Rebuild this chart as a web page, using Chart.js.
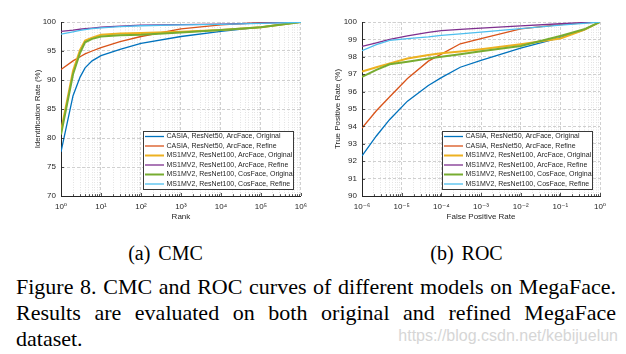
<!DOCTYPE html>
<html><head><meta charset="utf-8">
<script src="https://cdn.jsdelivr.net/npm/chart.js@4/dist/chart.umd.min.js"></script>
<style>
html,body{margin:0;padding:0;background:#fff;}
#wrap{position:relative;width:626px;height:354px;overflow:hidden;background:#fff;}
canvas{position:absolute;top:0;}
#c1{left:0;} #c2{left:313px;}
.sub{position:absolute;top:243px;width:200px;text-align:center;font:20px/20px "Liberation Serif","Times New Roman",serif;color:#000;word-spacing:3px;white-space:nowrap;}
.cap{position:absolute;left:16px;top:273.7px;width:600px;font:22px/26.3px "Liberation Serif","Times New Roman",serif;color:#000;}
.j{text-align:justify;text-align-last:justify;}
.wm{position:absolute;right:8px;top:327.5px;font:16px/16px "Liberation Sans",Arial,sans-serif;color:#d6d6d6;white-space:nowrap;}
</style></head>
<body>
<div id="wrap">
  <canvas id="c1" width="313" height="230"></canvas>
  <canvas id="c2" width="313" height="230"></canvas>
  <div class="sub" style="left:65.5px">(a) CMC</div>
  <div class="sub" style="left:366.5px">(b) ROC</div>
  <div class="cap">
    <div class="j">Figure 8. CMC and ROC curves of different models on MegaFace.</div>
    <div class="j">Results are evaluated on both original and refined MegaFace</div>
    <div>dataset.</div>
  </div>
  <div class="wm">https://blog.csdn.net/kebijuelun</div>
</div>
<script>
// ---------- data ----------
const seriesLabels = [
  'CASIA, ResNet50, ArcFace, Original',
  'CASIA, ResNet50, ArcFace, Refine',
  'MS1MV2, ResNet100, ArcFace, Original',
  'MS1MV2, ResNet100, ArcFace, Refine',
  'MS1MV2, ResNet100, CosFace, Original',
  'MS1MV2, ResNet100, CosFace, Refine'
];
const seriesColors = ['#0072BD','#D95319','#EDB120','#7E2F8E','#77AC30','#4DBEEE'];
const seriesWidths = [1.3, 1.3, 2, 1.3, 2, 1.3];

// CMC (x = rank)
const cmcRank = [1, 2, 3, 4, 6, 10, 30, 100, 1000, 10000, 100000, 1000000];
const cmcCasiaArcOrig   = [77.6, 87.3, 90.5, 92.1, 93.3, 94.2, 95.3, 96.3, 97.5, 98.4, 99.1, 100];
const cmcCasiaArcRef    = [91.8, 93.3, 94.0, 94.5, 95.0, 95.6, 96.6, 97.5, 98.8, 99.5, 99.9, 100];
const cmcMsArcOrig      = [81.2, 91.6, 95.2, 96.8, 97.3, 97.8, 98.0, 98.1, 98.3, 98.6, 99.1, 100];
const cmcMsArcRef       = [98.4, 98.6, 98.75, 98.85, 98.95, 99.1, 99.3, 99.45, 99.55, 99.65, 99.8, 100];
const cmcMsCosOrig      = [80.6, 91.0, 94.7, 96.5, 97.1, 97.5, 97.7, 97.8, 98.2, 98.6, 99.1, 100];
const cmcMsCosRef       = [97.9, 98.3, 98.55, 98.7, 98.85, 99.0, 99.2, 99.35, 99.5, 99.6, 99.75, 99.95];

// ROC (x = false positive rate)
const rocFpr = [1e-6, 2.3e-6, 5e-6, 1.4e-5, 4.7e-5, 1e-4, 3e-4, 1e-3, 1e-2, 1e-1, 0.4, 1];
const rocCasiaArcOrig = [92.3, 93.45, 94.4, 95.45, 96.35, 96.8, 97.4, 97.8, 98.5, 99.1, 99.55, 100];
const rocCasiaArcRef  = [93.9, 94.9, 95.7, 96.75, 97.75, 98.15, 98.75, 99.05, 99.6, 99.85, 99.95, 100];
const rocMsArcOrig    = [97.15, 97.4, 97.62, 97.9, 98.1, 98.2, 98.3, 98.43, 98.72, 99.05, 99.55, 100];
const rocMsArcRef     = [98.6, 98.8, 99.0, 99.2, 99.4, 99.5, 99.58, 99.65, 99.78, 99.9, 99.97, 100];
const rocMsCosOrig    = [96.85, 97.25, 97.57, 97.72, 97.9, 98.0, 98.15, 98.32, 98.62, 99.2, 99.58, 100];
const rocMsCosRef     = [98.35, 98.7, 98.95, 99.05, 99.15, 99.23, 99.32, 99.42, 99.62, 99.82, 99.92, 100];

// ticks
const cmcTickLabels = ['10\u2070','10\u00b9','10\u00b2','10\u00b3','10\u2074','10\u2075','10\u2076'];
const rocTickLabels = ['10\u207b\u2076','10\u207b\u2075','10\u207b\u2074','10\u207b\u00b3','10\u207b\u00b2','10\u207b\u00b9','10\u2070'];
const cmcYTicks = [70, 75, 80, 85, 90, 95, 100];
const rocYTicks = [90, 91, 92, 93, 94, 95, 96, 97, 98, 99, 100];

// ---------- helpers ----------
const FONT = '"Liberation Sans", Arial, "DejaVu Sans", sans-serif';
const TXT = '#262626';
function isPow10(v){ const l = Math.log10(v); return Math.abs(l - Math.round(l)) < 1e-9; }
function logTickValues(minExp, maxExp){
  const out = [];
  for (let e = minExp; e < maxExp; e++) for (let m = 1; m <= 9; m++) out.push(m * Math.pow(10, e));
  out.push(Math.pow(10, maxExp));
  return out;
}
function makeDatasets(xs, ysList){
  return ysList.map((ys, i) => ({
    label: seriesLabels[i],
    data: xs.map((x, k) => ({x: x, y: ys[k]})),
    borderColor: seriesColors[i],
    backgroundColor: seriesColors[i],
    borderWidth: seriesWidths[i],
    pointRadius: 0,
    showLine: true,
    tension: 0,
    fill: false,
    order: 6 - i
  }));
}

const boxLegend = {
  id: 'boxLegend',
  afterDraw(chart){
    const {ctx, chartArea: a} = chart;
    const w = 151, h = 59;
    const x0 = Math.round(a.right - 7 - w), y0 = Math.round(a.bottom - 6 - h);
    ctx.save();
    ctx.fillStyle = '#fff'; ctx.fillRect(x0, y0, w, h);
    ctx.strokeStyle = '#3a3a3a'; ctx.lineWidth = 1; ctx.strokeRect(x0 + 0.5, y0 + 0.5, w - 1, h - 1);
    ctx.font = '7px ' + FONT;
    ctx.textBaseline = 'middle';
    chart.data.datasets.forEach((ds, i) => {
      const y = y0 + 5.5 + i * 9.5;
      ctx.strokeStyle = ds.borderColor; ctx.lineWidth = ds.borderWidth;
      ctx.beginPath(); ctx.moveTo(x0 + 2, y); ctx.lineTo(x0 + 21, y); ctx.stroke();
      ctx.fillStyle = TXT;
      ctx.fillText(ds.label, x0 + 23.5, y);
    });
    ctx.restore();
  }
};

const innerTicks = {
  id: 'innerTicks',
  afterDatasetsDraw(chart){
    const {ctx, scales: {x, y}, chartArea: a} = chart;
    ctx.save();
    ctx.strokeStyle = TXT; ctx.lineWidth = 0.8;
    x.ticks.forEach(t => {
      const px = Math.round(x.getPixelForValue(t.value)) + 0.5;
      const len = isPow10(t.value) ? 3 : 1.8;
      ctx.beginPath(); ctx.moveTo(px, a.bottom); ctx.lineTo(px, a.bottom - len); ctx.stroke();
    });
    y.ticks.forEach(t => {
      const py = Math.round(y.getPixelForValue(t.value)) + 0.5;
      ctx.beginPath(); ctx.moveTo(a.left, py); ctx.lineTo(a.left + 3, py); ctx.stroke();
    });
    ctx.restore();
  }
};

function makeChart(id, xs, ysList, cfg){
  const xTickVals = logTickValues(cfg.minExp, cfg.maxExp);
  return new Chart(document.getElementById(id), {
    type: 'scatter',
    data: { datasets: makeDatasets(xs, ysList) },
    options: {
      responsive: false,
      animation: false,
      devicePixelRatio: 1,
      layout: { padding: { left: 0, top: 22, right: cfg.padRight, bottom: 0 } },
      plugins: { legend: { display: false }, tooltip: { enabled: false } },
      scales: {
        x: {
          type: 'logarithmic',
          min: Math.pow(10, cfg.minExp), max: Math.pow(10, cfg.maxExp),
          afterBuildTicks: s => { s.ticks = xTickVals.map(v => ({value: v, major: isPow10(v)})); },
          afterFit: s => { s.height = 34; },
          ticks: {
            autoSkip: false, maxRotation: 0, minRotation: 0, padding: 6,
            color: TXT, font: { family: FONT, size: 8 },
            callback: v => isPow10(v) ? cfg.xLabels[Math.round(Math.log10(v)) - cfg.minExp] : ''
          },
          grid: {
            drawTicks: false,
            color: c => (c.tick && isPow10(c.tick.value)) ? '#d0d0d0' : '#e2e2e2',
            lineWidth: 1
          },
          border: {
            color: TXT, width: 1,
            dash: c => c.tick ? (isPow10(c.tick.value) ? [3, 2] : [1, 1.5]) : []
          },
          title: { display: true, text: cfg.xTitle, color: TXT, font: { family: FONT, size: 8 }, padding: { top: 0, bottom: 8.5 } }
        },
        y: {
          min: cfg.yTicks[0], max: cfg.yTicks[cfg.yTicks.length - 1],
          afterBuildTicks: s => { s.ticks = cfg.yTicks.map(v => ({value: v})); },
          afterFit: s => { s.width = cfg.yWidth; },
          ticks: { padding: 5, color: TXT, font: { family: FONT, size: 8 } },
          grid: { drawTicks: false, color: '#d0d0d0', lineWidth: 1 },
          border: { color: TXT, width: 1, dash: c => c.tick ? [3, 2] : [] },
          title: { display: true, text: cfg.yTitle, color: TXT, font: { family: FONT, size: 8 }, padding: { top: cfg.yTitlePad, bottom: 0 } }
        }
      }
    },
    plugins: [innerTicks, boxLegend]
  });
}

makeChart('c1', cmcRank,
  [cmcCasiaArcOrig, cmcCasiaArcRef, cmcMsArcOrig, cmcMsArcRef, cmcMsCosOrig, cmcMsCosRef],
  { minExp: 0, maxExp: 6, xLabels: cmcTickLabels, yTicks: cmcYTicks, padRight: 12, yWidth: 61,
    xTitle: 'Rank', yTitle: 'Identification Rate (%)', yTitlePad: 33 });

makeChart('c2', rocFpr,
  [rocCasiaArcOrig, rocCasiaArcRef, rocMsArcOrig, rocMsArcRef, rocMsCosOrig, rocMsCosRef],
  { minExp: -6, maxExp: 0, xLabels: rocTickLabels, yTicks: rocYTicks, padRight: 26, yWidth: 49,
    xTitle: 'False Positive Rate', yTitle: 'True Positive Rate (%)', yTitlePad: 20 });
</script>
</body></html>
